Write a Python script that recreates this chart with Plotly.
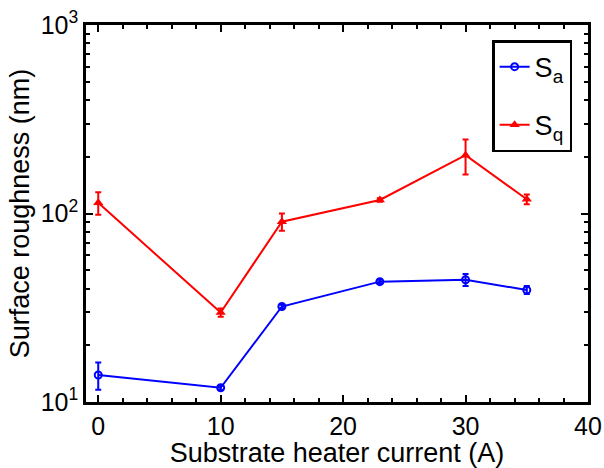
import plotly.graph_objects as go

current = [0, 10, 15, 23, 30, 35]
sa = [13.9, 11.9, 32.1, 43.5, 44.5, 39.3]
sa_err = [2.3, 0.3, 0.7, 1.0, 3.3, 1.9]
sq = [114, 29.8, 90.5, 118, 204, 119]
sq_err = [15.5, 1.5, 9.5, 2.5, 43, 7]
x_ticks = [0, 10, 20, 30, 40]
y_ticks = [10, 100, 1000]
y_ticktext = ["10<sup>1</sup>", "10<sup>2</sup>", "10<sup>3</sup>"]

font = "Liberation Sans, Arial, sans-serif"

fig = go.Figure()
fig.add_trace(go.Scatter(
    x=current, y=sa, mode="lines+markers", name="S<sub>a</sub>", legendgroup="a",
    line=dict(color="#0000ff", width=2),
    marker=dict(symbol="circle-open", size=7, color="#0000ff", line=dict(width=2)),
    error_y=dict(type="data", array=sa_err, color="#0000ff", thickness=2, width=3),
))
fig.add_trace(go.Scatter(
    x=current, y=sq, mode="lines+markers", name="S<sub>q</sub>", legendgroup="q",
    line=dict(color="#ff0000", width=2),
    marker=dict(symbol="triangle-up", size=9, color="#ff0000"),
    error_y=dict(type="data", array=sq_err, color="#ff0000", thickness=2, width=3),
))

axis_common = dict(
    showline=True, linecolor="black", linewidth=2.5, mirror="allticks",
    ticks="inside", ticklen=7, tickwidth=2, tickcolor="black",
    showgrid=False, zeroline=False, automargin=False,
    tickfont=dict(family=font, size=25, color="black"),
    title_font=dict(family=font, size=27, color="black"),
)

fig.update_xaxes(
    range=[-1, 40], tickvals=x_ticks,
    title_text="Substrate heater current (A)", title_standoff=2,
    minor=dict(dtick=2, ticks="inside", ticklen=4, tickwidth=2, tickcolor="black"),
    **axis_common,
)
fig.update_yaxes(
    type="log", range=[1, 3], tickvals=y_ticks, ticktext=y_ticktext,
    title_text="Surface roughness (nm)", title_standoff=4,
    minor=dict(ticks="inside", ticklen=4, tickwidth=2, tickcolor="black",
               tickvals=[20, 30, 40, 50, 60, 70, 80, 90, 200, 300, 400, 500, 600, 700, 800, 900]),
    **axis_common,
)

fig.update_layout(
    width=604, height=468,
    margin=dict(l=86, r=16, t=25, b=66),
    paper_bgcolor="white", plot_bgcolor="white",
    showlegend=True,
    legend=dict(
        x=0.809, y=0.96, xanchor="left", yanchor="top",
        bordercolor="black", borderwidth=2.5, bgcolor="white",
        font=dict(family=font, size=27, color="black"),
        traceorder="grouped", tracegroupgap=20, itemwidth=30,
    ),
)

fig.write_html("out.html")
